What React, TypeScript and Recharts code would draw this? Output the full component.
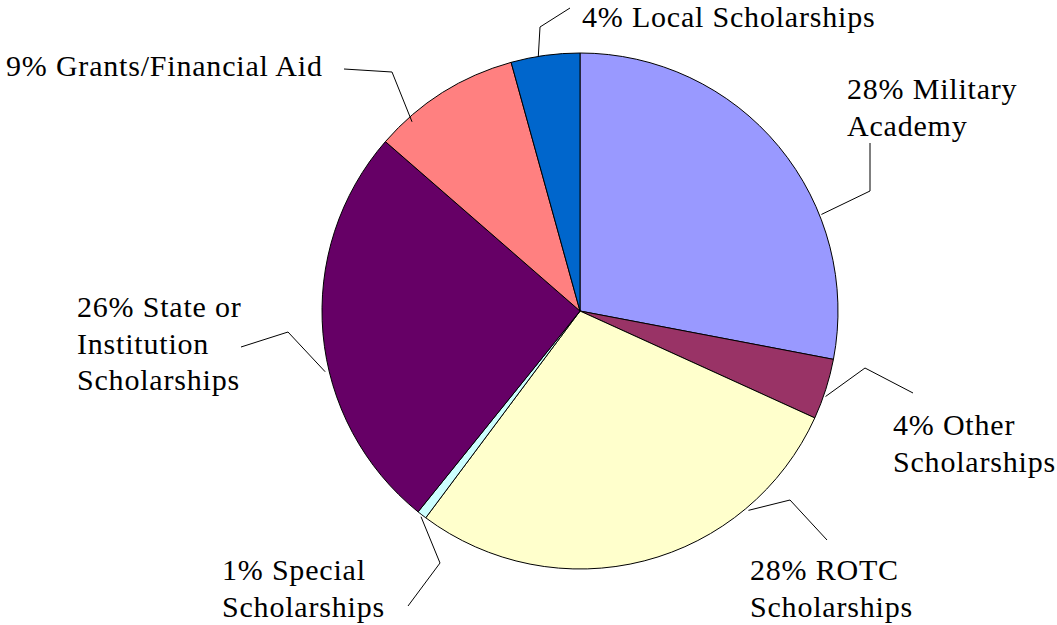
import { PieChart, Pie, Cell } from "recharts";

const categories = [
  "Military Academy",
  "Other Scholarships",
  "ROTC Scholarships",
  "Special Scholarships",
  "State or Institution Scholarships",
  "Grants/Financial Aid",
  "Local Scholarships",
];
const shares = [28.0, 3.8, 28.4, 0.6, 25.6, 9.3, 4.3];
const labelLines = [
  ["Military", "Academy"],
  ["Other", "Scholarships"],
  ["ROTC", "Scholarships"],
  ["Special", "Scholarships"],
  ["State or", "Institution", "Scholarships"],
  ["Grants/Financial Aid"],
  ["Local Scholarships"],
];

const colors = ["#9999FF", "#993366", "#FFFFCC", "#CCFFFF", "#660066", "#FF8080", "#0066CC"];

// where each callout sits: edge = angle (deg clockwise from 12 o'clock) where leader meets the pie
const layout = [
  { edge: 68.2, dr: 2, elbow: [870, 191], end: [870, 143], x: 847, y: 99 },
  { edge: 109.2, dr: 2, elbow: [865, 368], end: [913, 393], x: 893, y: 435 },
  { edge: 139.8, dr: 3, elbow: [790, 500], end: [827, 540], x: 750, y: 580 },
  { edge: 217.7, dr: 2, elbow: [440, 563], end: [408, 606], x: 222, y: 580 },
  { edge: 256.6, dr: 4, elbow: [288, 332], end: [241, 347], x: 77, y: 317 },
  { edge: 318.4, dr: -5, elbow: [392, 72], end: [344, 69], x: 6, y: 76 },
  { edge: 350.7, dr: 0, elbow: [540, 27], end: [570, 8], x: 582, y: 27 },
];

const data = categories.map((name, i) => ({ name, value: shares[i] }));
const total = shares.reduce((a, b) => a + b, 0);

const FONT = "Liberation Serif";

function renderLabel(props: any) {
  const { cx, cy, outerRadius, index, value } = props;
  const l = layout[index];
  const a = (l.edge * Math.PI) / 180;
  const r = outerRadius + l.dr;
  const sx = cx + r * Math.sin(a);
  const sy = cy - r * Math.cos(a);
  const pct = Math.round((value / total) * 100);
  const lines = labelLines[index];
  return (
    <g key={"lbl" + index}>
      <polyline
        points={`${sx},${sy} ${l.elbow[0]},${l.elbow[1]} ${l.end[0]},${l.end[1]}`}
        fill="none"
        stroke="#000"
        strokeWidth={1}
      />
      <text
        x={l.x}
        y={l.y}
        fontFamily={FONT}
        fontSize={30}
        letterSpacing={0.8}
        fill="#000"
      >
        {lines.map((t, j) => (
          <tspan key={j} x={l.x} y={l.y + j * 36.5} fontFamily={FONT}>
            {j === 0 ? `${pct}% ${t}` : t}
          </tspan>
        ))}
      </text>
    </g>
  );
}

export default function App() {
  return (
    <div style={{ position: "absolute", left: 0, top: 0, background: "#fff" }}>
      <PieChart width={1057} height={625} margin={{ top: 0, right: 0, bottom: 0, left: 0 }}>
        <Pie
          data={data}
          dataKey="value"
          nameKey="name"
          cx={580}
          cy={311}
          outerRadius={258}
          startAngle={90}
          endAngle={-270}
          stroke="#000"
          strokeWidth={1}
          label={renderLabel}
          labelLine={false}
          isAnimationActive={false}
        >
          {data.map((d, i) => (
            <Cell key={d.name} fill={colors[i]} />
          ))}
        </Pie>
      </PieChart>
    </div>
  );
}
